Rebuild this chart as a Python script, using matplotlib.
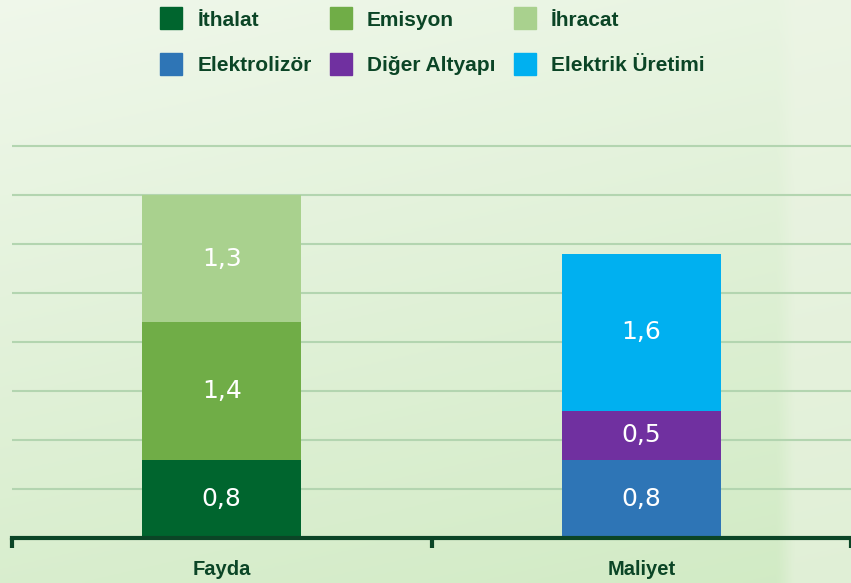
import numpy as np
import matplotlib
matplotlib.use("Agg")
import matplotlib.pyplot as plt
from matplotlib.lines import Line2D

plt.rcParams["font.family"] = ["Liberation Sans", "DejaVu Sans"]

categories = ["Fayda", "Maliyet"]
fayda_labels = ["İthalat", "Emisyon", "İhracat"]
fayda_values = [0.8, 1.4, 1.3]
maliyet_labels = ["Elektrolizör", "Diğer Altyapı", "Elektrik Üretimi"]
maliyet_values = [0.8, 0.5, 1.6]

fayda_colors = ["#00652e", "#70ad47", "#a9d18e"]
maliyet_colors = ["#2e75b6", "#7030a0", "#00b0f0"]
dark_green = "#0b4526"

fig = plt.figure(figsize=(8.51, 5.83), dpi=100)

# background gradient
bg = fig.add_axes([0, 0, 1, 1], zorder=0)
h, w = 200, 300
yy, xx = np.mgrid[0:1:h * 1j, 0:1:w * 1j]
top = np.array([0.94, 0.97, 0.92])
bot = np.array([0.82, 0.92, 0.77])
t = (0.75 * yy + 0.25 * xx)[..., None]
img = top * (1 - t) + bot * t
# lighter band on the right side
band = np.clip((xx - 0.915) / 0.02, 0, 1)[..., None]
img = img * (1 - 0.5 * band) + np.array([0.94, 0.96, 0.91]) * 0.5 * band
bg.imshow(img, aspect="auto", extent=[0, 1, 0, 1], origin="upper")
bg.axis("off")

ax = fig.add_axes([12 / 851, 45 / 583, 1 - 12 / 851, 400 / 583], zorder=1)
ax.patch.set_alpha(0)

x = np.arange(len(categories))
width = 0.38

for vals, cols, xi in [(fayda_values, fayda_colors, x[0]), (maliyet_values, maliyet_colors, x[1])]:
    bottom = 0
    for v, c in zip(vals, cols):
        ax.bar(xi, v, width, bottom=bottom, color=c, zorder=2)
        ax.text(xi, bottom + v / 2, f"{v:.1f}".replace(".", ","), ha="center", va="center",
                color="white", fontsize=18, family="DejaVu Sans", zorder=3)
        bottom += v

ax.set_xlim(-0.5, 1.493)
ax.set_ylim(0, 4.08)
ax.set_yticks(np.arange(0.5, 4.01, 0.5))
ax.yaxis.grid(True, color="#b3d5b0", linewidth=1.5, zorder=1)
ax.tick_params(axis="y", length=0, labelleft=False)

ax.set_xticks(x)
ax.set_xticklabels(categories, fontsize=14.5, fontweight="bold", color=dark_green)
ax.tick_params(axis="x", length=0, pad=16)
ax.set_xticks([-0.5, 0.5, 1.5], minor=True)
ax.tick_params(axis="x", which="minor", length=7, width=3, color=dark_green, direction="out")

for s in ["top", "right", "left"]:
    ax.spines[s].set_visible(False)
ax.spines["bottom"].set_color(dark_green)
ax.spines["bottom"].set_linewidth(3)
ax.spines["bottom"].set_zorder(4)

order_labels = [fayda_labels[0], maliyet_labels[0], fayda_labels[1], maliyet_labels[1],
                fayda_labels[2], maliyet_labels[2]]
order_colors = [fayda_colors[0], maliyet_colors[0], fayda_colors[1], maliyet_colors[1],
                fayda_colors[2], maliyet_colors[2]]
handles = [Line2D([], [], marker="s", linestyle="none", markersize=16, markerfacecolor=c,
                  markeredgecolor=c) for c in order_colors]
leg = fig.legend(handles, order_labels, ncol=3, loc="upper left", bbox_to_anchor=(140 / 851, 1.014),
                 frameon=False, handletextpad=0.65, columnspacing=0.8, labelspacing=1.27,
                 prop={"size": 15, "weight": "bold"}, handlelength=1.2)
for txt in leg.get_texts():
    txt.set_color(dark_green)

fig.savefig("out.png", dpi=100)
